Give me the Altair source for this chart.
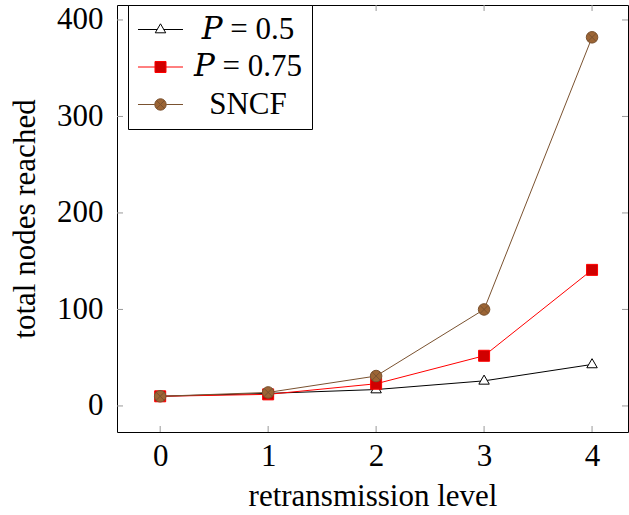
import altair as alt
import pandas as pd

# ---------------- data ----------------
levels = [0, 1, 2, 3, 4]
p_half = [10, 13, 17, 26, 43]
p_three_quarters = [10, 12, 23, 52, 141]
sncf = [10, 14, 31, 100, 382]
series_names = ["𝑃 = 0.5", "𝑃 = 0.75", "SNCF"]
x_ticks = [0, 1, 2, 3, 4]
y_ticks = [0, 100, 200, 300, 400]

rows = []
for name, vals in zip(series_names, [p_half, p_three_quarters, sncf]):
    for lv, v in zip(levels, vals):
        rows.append({"level": lv, "nodes": v, "series": name})
df = pd.DataFrame(rows)
xt = pd.DataFrame({"level": x_ticks})
yt = pd.DataFrame({"nodes": y_ticks})

# ---------------- style ----------------
W, H = 511, 427
FONT = "Liberation Serif"
FS = 31
line_colors = ["#000000", "#ff0000", "#7a5230"]
fill_colors = ["#ffffff", "#d00000", "#9c6535"]

# plot markers (unit scale 5.5 px with size 121)
marker_paths = [
    "M0,-1.05 L0.95,0.6 L-0.95,0.6 Z",
    "M-1,-1 H1 V1 H-1 Z",
    "M-1.05,0 A1.05,1.05 0 1,0 1.05,0 A1.05,1.05 0 1,0 -1.05,0 Z "
    "M-0.74,-0.74 L0.74,0.74 M-0.74,0.74 L0.74,-0.74",
]
# legend symbols (unit scale 15 px with size 900), shifted right by 0.533
legend_paths = [
    "M-0.967,0 H0.32 M0.746,0 H2.033 M0.533,-0.38 L0.883,0.22 L0.183,0.22 Z",
    "M-0.967,0 H0.166 M0.9,0 H2.033 M0.166,-0.367 H0.9 V0.367 H0.166 Z",
    "M-0.967,0 H0.153 M0.913,0 H2.033 "
    "M0.153,0 A0.38,0.38 0 1,0 0.913,0 A0.38,0.38 0 1,0 0.153,0 Z "
    "M0.264,-0.269 L0.802,0.269 M0.264,0.269 L0.802,-0.269",
]

xs = alt.Scale(domain=[-0.4, 4.333], nice=False, zero=False)
ys = alt.Scale(domain=[-27, 415.5], nice=False, zero=False)

x_axis = alt.Axis(values=x_ticks, ticks=False, domain=False, grid=False,
                  labelPadding=9, title="retransmission level",
                  titleY=73, titleBaseline="alphabetic")
y_axis = alt.Axis(values=y_ticks, ticks=False, domain=False, grid=False,
                  labelPadding=14, title="total nodes reached",
                  titleX=-92, titleY=H / 2, titleBaseline="middle",
                  titleAngle=270, titleAlign="center")

X = alt.X("level:Q", scale=xs, axis=x_axis)
Y = alt.Y("nodes:Q", scale=ys, axis=y_axis)

base = alt.Chart(df)

lines = base.mark_line(strokeWidth=1).encode(
    x=X, y=Y,
    color=alt.Color("series:N", scale=alt.Scale(domain=series_names, range=line_colors), legend=None),
)

points = base.mark_point(opacity=1, fillOpacity=1, strokeOpacity=1, strokeWidth=1, size=121).encode(
    x=X, y=Y,
    color=alt.Color("series:N", scale=alt.Scale(domain=series_names, range=line_colors), legend=None),
    fill=alt.Fill("series:N", scale=alt.Scale(domain=series_names, range=fill_colors), legend=None),
    shape=alt.Shape("series:N", scale=alt.Scale(domain=series_names, range=marker_paths), legend=None),
)

leg = alt.Legend(title=None, orient="none", legendX=11, legendY=0, padding=9,
                 strokeColor="black", fillColor="white", cornerRadius=0,
                 symbolSize=900, symbolStrokeWidth=1, symbolOpacity=1,
                 labelFont="Liberation Serif, DejaVu Serif", labelFontSize=FS, labelColor="black",
                 labelAlign="center", labelOffset=80, rowPadding=5.5, labelLimit=0)

legend_layer = base.mark_point(opacity=0, strokeWidth=1).encode(
    x=X, y=Y,
    color=alt.Color("series:N", scale=alt.Scale(domain=series_names, range=line_colors), legend=leg),
    fill=alt.Fill("series:N", scale=alt.Scale(domain=series_names, range=fill_colors), legend=leg),
    shape=alt.Shape("series:N", scale=alt.Scale(domain=series_names, range=legend_paths), legend=leg),
)

tick_col = "#999999"
yl = alt.Chart(yt).mark_rule(color=tick_col, strokeWidth=1).encode(
    y=Y, x=alt.value(0), x2=alt.value(6))
yr = alt.Chart(yt).mark_rule(color=tick_col, strokeWidth=1).encode(
    y=Y, x=alt.value(W - 6), x2=alt.value(W))
xb = alt.Chart(xt).mark_rule(color=tick_col, strokeWidth=1).encode(
    x=X, y=alt.value(H - 6), y2=alt.value(H))
xtp = alt.Chart(xt).mark_rule(color=tick_col, strokeWidth=1).encode(
    x=X, y=alt.value(0), y2=alt.value(6))

chart = alt.layer(yl, yr, xb, xtp, lines, points, legend_layer).resolve_scale(
    color="independent", fill="independent", shape="independent"
).properties(
    width=W, height=H,
    autosize=alt.AutoSizeParams(type="none"),
    padding={"left": 117, "top": 5, "right": 1, "bottom": 83},
    background="white",
).configure_view(
    stroke="black", strokeWidth=1
).configure_axis(
    labelFont=FONT, titleFont=FONT, labelFontSize=FS, titleFontSize=FS,
    titleFontWeight="normal", labelColor="black", titleColor="black",
)

chart.save("out.html", embed_options={"renderer": "svg", "actions": False})
